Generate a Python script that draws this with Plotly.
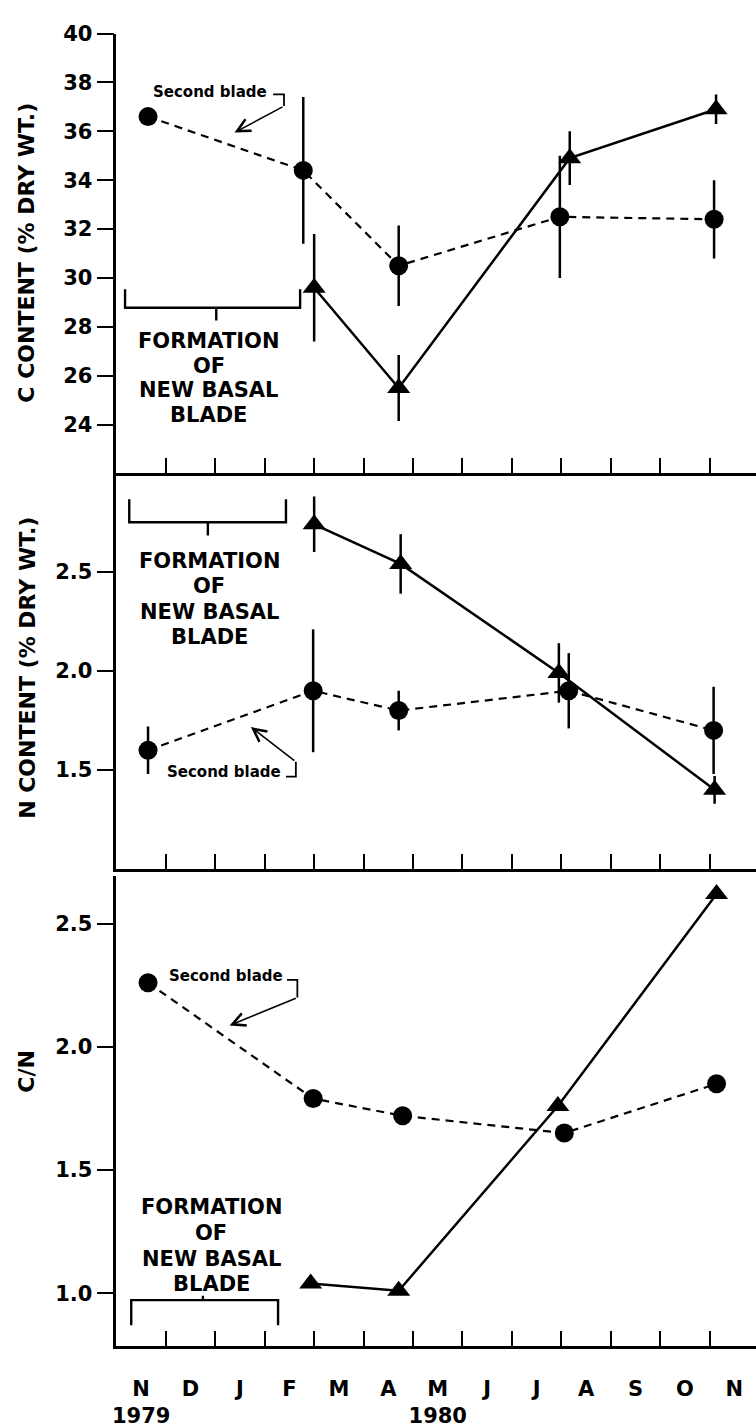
import plotly.graph_objects as go

# Sampling dates in months from 1 Nov 1979 (0 = start of Nov 1979)
month_labels = ["N", "D", "J", "F", "M", "A", "M", "J", "J", "A", "S", "O", "N"]
month_text = ["N<br>1979", "D", "J", "F", "M", "A", "M<br>1980", "J", "J", "A", "S", "O", "N"]

# C content (% dry wt.)
c_second_x = [0.64, 3.78, 5.71, 8.97, 12.09]
c_second_y = [36.6, 34.4, 30.5, 32.5, 32.4]
c_second_err = [0.0, 3.0, 1.65, 2.5, 1.6]
c_basal_x = [4.0, 5.71, 9.17, 12.13]
c_basal_y = [29.6, 25.5, 34.9, 36.9]
c_basal_err = [2.2, 1.35, 1.1, 0.6]

# N content (% dry wt.)
n_second_x = [0.64, 3.98, 5.71, 9.15, 12.08]
n_second_y = [1.6, 1.9, 1.8, 1.9, 1.7]
n_second_err = [0.12, 0.31, 0.1, 0.19, 0.22]
n_basal_x = [4.0, 5.75, 8.95, 12.1]
n_basal_y = [2.74, 2.54, 1.99, 1.4]
n_basal_err = [0.14, 0.15, 0.15, 0.07]

# C/N ratio
cn_second_x = [0.64, 3.98, 5.79, 9.06, 12.14]
cn_second_y = [2.26, 1.79, 1.72, 1.65, 1.85]
cn_basal_x = [3.93, 5.71, 8.93, 12.14]
cn_basal_y = [1.04, 1.01, 1.76, 2.62]

W, H = 756, 1428
FONT = "DejaVu Sans"
INK = "black"


def py(px):
    """paper y from pixel row"""
    return (H - px) / H


fig = go.Figure()


def add_series(x, y, err, xa, ya, second):
    err_y = None
    if err is not None:
        err_y = dict(type="data", array=err, symmetric=True, color=INK,
                     thickness=2.5, width=0)
    fig.add_trace(go.Scatter(
        x=x, y=y, xaxis=xa, yaxis=ya, mode="lines+markers",
        line=dict(color=INK, width=2.2 if second else 2.5,
                  dash="8px,6px" if second else "solid"),
        marker=dict(symbol="circle" if second else "triangle-up",
                    size=19 if second else 20, color=INK),
        error_y=err_y, showlegend=False, cliponaxis=False,
    ))


add_series(c_second_x, c_second_y, c_second_err, "x", "y", True)
add_series(c_basal_x, c_basal_y, c_basal_err, "x", "y", False)
add_series(n_second_x, n_second_y, n_second_err, "x2", "y2", True)
add_series(n_basal_x, n_basal_y, n_basal_err, "x2", "y2", False)
add_series(cn_second_x, cn_second_y, None, "x3", "y3", True)
add_series(cn_basal_x, cn_basal_y, None, "x3", "y3", False)

x_range = [0, (W - 113) / 49.7]
x_dom = [113 / W, 1.0]
tick_font = dict(family=FONT, size=21, color=INK, weight="bold")


def xaxis(anchor, labels):
    return dict(
        domain=x_dom, range=x_range, anchor=anchor, showgrid=False,
        zeroline=False, showline=True, linecolor=INK, linewidth=2.5,
        tickvals=[m + 0.5 for m in range(13)],
        ticktext=month_text if labels else [""] * 13,
        ticks="outside", ticklen=22, tickcolor="rgba(0,0,0,0)",
        tickfont=tick_font,
        minor=dict(tickvals=list(range(1, 13)), ticks="inside", ticklen=15,
                   tickwidth=2, tickcolor=INK, showgrid=False),
    )


def yaxis(anchor, dom, rng, vals, text):
    return dict(
        domain=dom, range=rng, anchor=anchor, showgrid=False, zeroline=False,
        showline=True, linecolor=INK, linewidth=2.5,
        tickvals=vals, ticktext=text, ticks="outside", ticklen=17,
        tickwidth=2, tickcolor=INK, tickfont=tick_font,
    )


fig.update_layout(
    width=W, height=H, margin=dict(l=0, r=0, t=0, b=0),
    paper_bgcolor="white", plot_bgcolor="white",
    font=dict(family=FONT, color=INK),
    xaxis=xaxis("y", False),
    xaxis2=xaxis("y2", False),
    xaxis3=xaxis("y3", True),
    yaxis=yaxis("x", [py(465), py(21.7)], [22.03, 40],
                [24, 26, 28, 30, 32, 34, 36, 38, 40],
                ["24", "26", "28", "30", "32", "34", "36", "38", "40"]),
    yaxis2=yaxis("x2", [py(865), py(465)], [1.0, 3.0],
                 [1.5, 2.0, 2.5], ["1.5", "2.0", "2.5"]),
    yaxis3=yaxis("x3", [py(1346), py(872)], [0.787, 2.693],
                 [1.0, 1.5, 2.0, 2.5], ["1.0", "1.5", "2.0", "2.5"]),
)

# Axis titles
title_font = dict(family=FONT, size=22, color=INK, weight="bold")
for text, x_px, y_px in [("C CONTENT (% DRY WT.)", 22.5, 242.5),
                         ("N CONTENT (% DRY WT.)", 24, 662),
                         ("C/N", 22.5, 1069)]:
    fig.add_annotation(text=text, xref="paper", yref="paper",
                       x=x_px / W, y=py(y_px), xanchor="center",
                       yanchor="middle", textangle=-90, showarrow=False,
                       font=title_font)

# "Formation of new basal blade" labels, one line at a time
form_font = dict(family=FONT, size=21, color=INK, weight="bold")
form_lines = ["FORMATION", "OF", "NEW BASAL", "BLADE"]
# axes, centre x, centre y, line step in data units
form_blocks = [("x", "y", 1.87, 25.91, 24.7 / 24.7),
               ("x2", "y2", 1.88, 2.3625, 25.5 / 200),
               ("x3", "y3", 1.92, 1.193, 26.0 / 248.7)]
for xa, ya, cx, cy, step in form_blocks:
    for i, line in enumerate(form_lines):
        fig.add_annotation(text=line, xref=xa, yref=ya, x=cx,
                           y=cy + (1.5 - i) * step, xanchor="center",
                           yanchor="middle", showarrow=False, font=form_font)

bracket_line = dict(color=INK, width=2.4)
fig.add_shape(type="path", xref="x", yref="y", line=bracket_line,
              path="M 0.175,29.54 L 0.175,28.78 L 3.716,28.78 L 3.716,29.54 "
                   "M 2.02,28.78 L 2.02,28.26")
fig.add_shape(type="path", xref="x2", yref="y2", line=bracket_line,
              path="M 0.26,2.867 L 0.26,2.75 L 3.43,2.75 L 3.43,2.867 "
                   "M 1.85,2.75 L 1.85,2.683")
fig.add_shape(type="path", xref="x3", yref="y3", line=bracket_line,
              path="M 0.30,0.87 L 0.30,0.972 L 3.27,0.972 L 3.27,0.87 "
                   "M 1.75,0.972 L 1.75,0.99")

# "Second blade" callouts
sb_font = dict(family=FONT, size=15, color=INK, weight="bold")
thin = dict(color=INK, width=1.8)
callouts = [
    # axes, text pos, bracket path, arrow tail, arrow head
    ("x", "y", (1.90, 37.61),
     "M 3.17,37.51 L 3.39,37.51 L 3.39,37.03", (3.39, 37.03), (2.39, 35.95)),
    ("x2", "y2", (2.17, 1.492),
     "M 3.43,1.467 L 3.63,1.467 L 3.63,1.542", (3.63, 1.542), (2.72, 1.717)),
    ("x3", "y3", (2.22, 2.286),
     "M 3.45,2.272 L 3.66,2.272 L 3.66,2.20", (3.66, 2.20), (2.29, 2.087)),
]
for xa, ya, (tx, ty), path, tail, head in callouts:
    fig.add_annotation(text="Second blade", xref=xa, yref=ya, x=tx, y=ty,
                       xanchor="center", yanchor="middle", showarrow=False,
                       font=sb_font)
    fig.add_shape(type="path", xref=xa, yref=ya, line=thin, path=path)
    fig.add_annotation(text="", xref=xa, yref=ya, x=head[0], y=head[1],
                       axref=xa, ayref=ya, ax=tail[0], ay=tail[1],
                       showarrow=True, arrowhead=5, arrowsize=1.6,
                       arrowwidth=1.6, arrowcolor=INK, standoff=0)

fig.write_html("out.html")
